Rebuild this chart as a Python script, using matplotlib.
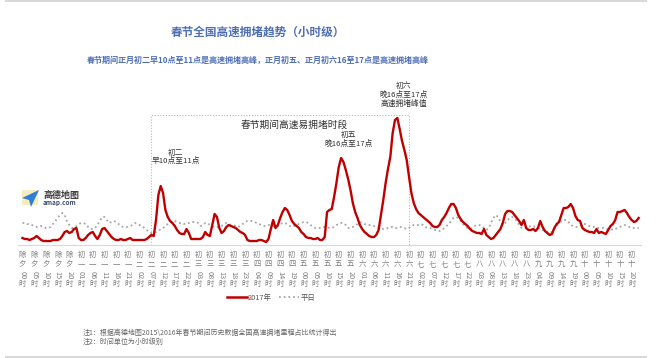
import numpy as np
import matplotlib
matplotlib.use("Agg")
import matplotlib.pyplot as plt
from matplotlib.patches import Rectangle, Polygon
from matplotlib.lines import Line2D

plt.rcParams['font.family'] = ['Noto Sans CJK SC', 'DejaVu Sans']

# Hourly congestion share (arbitrary units), 除夕00时 onward
red_2017 = [
    7, 6, 6, 5, 6, 7, 9, 7, 5, 4, 4, 4,
    4, 5, 5, 5, 6, 9, 13, 14, 12, 13, 16, 17,
    7, 5, 5, 7, 10, 12, 13, 9, 6, 10, 16, 17,
    14, 11, 8, 6, 5, 5, 6, 5, 5, 6, 7, 5,
    5, 5, 5, 5, 5, 6, 8, 10, 9, 25, 50, 59,
    52, 35, 28, 24, 22, 19, 15, 12, 11, 11, 16, 12,
    6, 6, 6, 6, 6, 8, 13, 10, 9, 20, 31, 28,
    17, 12, 14, 18, 20, 19, 18, 17, 15, 13, 12, 10,
    5, 4, 4, 4, 4, 5, 5, 4, 3, 6, 16, 25,
    17, 20, 27, 33, 37, 35, 30, 24, 21, 19, 17, 13,
    11, 8, 7, 7, 6, 6, 7, 5, 5, 8, 33, 35,
    36, 48, 62, 78, 87, 83, 75, 66, 55, 42, 33, 27,
    20, 16, 13, 11, 9, 8, 8, 10, 15, 30, 45, 62,
    76, 88, 112, 125, 127, 116, 104, 95, 85, 68, 52, 42,
    36, 32, 30, 28, 26, 24, 22, 19, 18, 18, 20, 25,
    28, 32, 37, 41, 41, 37, 30, 26, 23, 21, 19, 16,
    14, 13, 12, 12, 11, 16, 10, 8, 6, 7, 10, 13,
    16, 22, 31, 34, 34, 33, 30, 27, 24, 20, 25, 17,
    15, 15, 16, 14, 17, 24, 18, 14, 12, 10, 11, 17,
    21, 23, 30, 37, 37, 38, 41, 37, 29, 25, 24, 17,
    15, 14, 13, 13, 12, 16, 12, 13, 12, 11, 15, 19,
    21, 25, 33, 33, 34, 35, 32, 28, 25, 23, 24, 27,
]

grey_normal = [
    22, 22, 21, 21, 20, 19, 18, 18, 19, 18, 17, 17,
    18, 21, 24, 27, 30, 32, 30, 24, 20, 17, 17, 19,
    21, 22, 22, 21, 18, 16, 16, 17, 20, 24, 28, 28,
    25, 22, 23, 24, 23, 21, 19, 18, 18, 18, 19, 20,
    22, 21, 20, 19, 17, 15, 13, 12, 12, 13, 14, 16,
    17, 19, 21, 23, 24, 24, 23, 22, 22, 21, 22, 22,
    23, 23, 23, 22, 19, 20, 22, 22, 20, 19, 18, 18,
    18, 19, 21, 22, 21, 20, 20, 19, 18, 19, 21, 23,
    24, 24, 24, 23, 22, 21, 20, 19, 19, 20, 20, 19,
    18, 19, 21, 22, 22, 21, 19, 18, 19, 20, 21, 22,
    23, 23, 22, 20, 18, 17, 17, 17, 18, 18, 18, 17,
    17, 18, 20, 21, 22, 22, 20, 17, 17, 18, 19, 21,
    23, 22, 21, 20, 20, 20, 19, 18, 17, 17, 16, 16,
    17, 18, 18, 17, 17, 18, 18, 17, 16, 17, 19, 20,
    20, 20, 21, 20, 18, 17, 17, 16, 15, 15, 14, 15,
    17, 19, 21, 24, 27, 28, 27, 24, 21, 19, 17, 16,
    17, 19, 20, 20, 19, 17, 15, 17, 22, 27, 30, 28,
    23, 20, 22, 25, 27, 28, 27, 24, 20, 17, 16, 17,
    18, 19, 19, 18, 17, 16, 15, 14, 13, 12, 13, 16,
    19, 22, 24, 25, 25, 23, 20, 19, 18, 18, 19, 21,
    21, 20, 19, 18, 18, 17, 17, 17, 17, 16, 16, 16,
    15, 16, 17, 18, 19, 20, 19, 18, 17, 17, 17, 17,
]

tick_labels = [
    "除夕00时", "除夕05时", "除夕10时", "除夕15时", "除夕20时",
    "初一01时", "初一06时", "初一11时", "初一16时", "初一21时",
    "初二02时", "初二07时", "初二12时", "初二17时", "初二22时",
    "初三03时", "初三08时", "初三13时", "初三18时", "初三23时",
    "初四04时", "初四09时", "初四14时", "初四19时",
    "初五00时", "初五05时", "初五10时", "初五15时", "初五20时",
    "初六01时", "初六06时", "初六11时", "初六16时", "初六21时",
    "初七02时", "初七07时", "初七12时", "初七17时", "初七22时",
    "初八03时", "初八08时", "初八13时", "初八18时", "初八23时",
    "初九04时", "初九09时", "初九14时", "初九19时",
    "初十00时", "初十05时", "初十10时", "初十15时", "初十20时",
]
tick_step = 5  # hours between labels

# busy window (初二07时 .. 初六21时) and peak notes
window_start, window_end, window_top = 55, 165, 130
notes = [
    (65.5, 88, "初二\n早10点至11点"),
    (139, 106, "初五\n晚16点至17点"),
    (162.8, 150, "初六\n晚16点至17点\n高速拥堵峰值"),
]

W, H = 660, 358
fig = plt.figure(figsize=(W / 100, H / 100), dpi=100)
fig.patch.set_facecolor('white')


def fx(x):
    return x / W


def fy(y):
    return 1 - y / H


ax = fig.add_axes([fx(17.8), fy(245), (641 - 17.8) / W, 185 / H])
hours = np.arange(len(red_2017))
ax.plot(hours, grey_normal, color='#a6a6a6', lw=1.3, ls=(0, (1, 1.6)),
        label='平日', zorder=2)
ax.plot(hours, red_2017, color='#c00000', lw=1.7, label='2017年', zorder=3)

ax.set_xlim(-2, 264)
ax.set_ylim(0, 185)
for s in ['top', 'right', 'left']:
    ax.spines[s].set_visible(False)
ax.spines['bottom'].set_color('#d9d9d9')
ax.spines['bottom'].set_linewidth(0.8)
ax.set_yticks([])
ax.set_xticks([])

# dotted window box
box = Rectangle((window_start, 0), window_end - window_start, window_top,
                fill=False, ls=(0, (1, 1.5)), lw=0.8, ec='#9cc3cc', zorder=1)
ax.add_patch(box)
ax.text((window_start + window_end) / 2 + 6, window_top - 10, '春节期间高速易拥堵时段',
        ha='center', va='center', fontsize=7, color='#333333')

for x, y, txt in notes:
    ax.text(x, y, txt, ha='center', va='center', fontsize=5.6,
            color='#333333', linespacing=1.15)

# stacked vertical tick labels
tr = ax.get_xaxis_transform()
for i, lab in enumerate(tick_labels):
    x = i * tick_step
    kw = dict(xycoords=tr, textcoords='offset points', ha='center', va='top',
              fontsize=5.3, color='#7f7f7f')
    ax.annotate(lab[0], (x, 0), xytext=(0, -4), **kw)
    ax.annotate(lab[1], (x, 0), xytext=(0, -11), **kw)
    ax.annotate(lab[2:4], (x, 0), xytext=(0, -18.5), rotation=-90,
                rotation_mode='anchor', **dict(kw, ha='left', va='center'))
    ax.annotate(lab[4], (x, 0), xytext=(0, -25.5), **kw)

# titles
fig.text(fx(258), fy(32), '春节全国高速拥堵趋势（小时级）', ha='center', va='center',
         fontsize=8.4, fontweight='bold', color='#4f6fb5')
fig.text(fx(258), fy(60),
         '春节期间正月初二早10点至11点是高速拥堵高峰，正月初五、正月初六16至17点是高速拥堵高峰',
         ha='center', va='center', fontsize=5.8, fontweight='bold', color='#4f6fb5')

# legend
h_red = Line2D([], [], color='#c00000', lw=1.8)
h_grey = Line2D([], [], color='#a6a6a6', lw=1.3, ls=(0, (1, 1.6)))
fig.legend([h_red, h_grey], ['2017年', '平日'], loc='center',
           bbox_to_anchor=(fx(271), fy(298)), ncol=2, frameon=False,
           fontsize=5.3, handlelength=2.7, handletextpad=0.2, columnspacing=1.0,
           labelcolor='#555555')

# footnotes
fig.text(fx(83), fy(333), '注1：根据高德地图2015\\2016年春节期间历史数据全国高速拥堵里程占比统计得出',
         ha='left', va='center', fontsize=5, color='#666666')
fig.text(fx(83), fy(341.5), '注2：时间单位为小时级别',
         ha='left', va='center', fontsize=5, color='#666666')

# amap logo
fig.add_artist(Rectangle((fx(22), fy(205)), 16 / W, 15 / H, transform=fig.transFigure,
                         fc='#f3e9b0', ec='none', alpha=0.8))
fig.add_artist(Polygon([(fx(22), fy(198)), (fx(39), fy(190)), (fx(31), fy(207)),
                        (fx(29), fy(200))], closed=True, transform=fig.transFigure,
                       fc='#2f7fd8', ec='none'))
fig.text(fx(43), fy(195), '高德地图', ha='left', va='center', fontsize=6.5,
         color='#3a3a3a', fontweight='bold')
fig.text(fx(43), fy(202.5), 'amap.com', ha='left', va='center', fontsize=4.6,
         color='#3a4a70', fontweight='bold')

# frame bars top and bottom
fig.add_artist(Rectangle((fx(5), fy(2)), (647 - 5) / W, 2 / H, transform=fig.transFigure,
                         fc='#d9d9d9', ec='none'))
fig.add_artist(Rectangle((fx(5), fy(358)), (647 - 5) / W, 2.5 / H,
                         transform=fig.transFigure, fc='#d9d9d9', ec='none'))

fig.savefig('out.png', dpi=100)
